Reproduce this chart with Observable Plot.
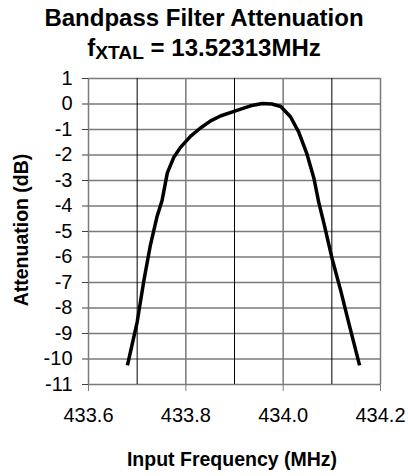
<!DOCTYPE html>
<html>
<head>
<meta charset="utf-8">
<script src="https://cdn.jsdelivr.net/npm/d3@7"></script>
<script src="https://cdn.jsdelivr.net/npm/@observablehq/plot@0.6"></script>
<style>
  html, body { margin: 0; padding: 0; background: #fff; }
  #wrap { position: relative; width: 408px; height: 476px; font-family: "Liberation Sans", Arial, sans-serif; color: #000; }
  .t { position: absolute; left: 0; width: 408px; text-align: center; font-weight: bold; white-space: nowrap; }
  #title { top: 6px; font-size: 24px; line-height: 24px; }
  #subtitle { top: 36px; font-size: 24px; line-height: 24px; }
  #subtitle sub { font-size: 0.8em; vertical-align: -0.15em; line-height: 0; }
  #xlabel { position: absolute; left: 232px; top: 450px; transform: translateX(-50%); font-size: 19.5px; line-height: 19.5px; font-weight: bold; white-space: nowrap; }
  #ylabel { position: absolute; left: 22px; top: 230px; transform: translate(-50%, -50%) rotate(-90deg); font-size: 19.5px; line-height: 19.5px; font-weight: bold; white-space: nowrap; }
  #plot { position: absolute; left: 0; top: 0; }
</style>
</head>
<body>
<div id="wrap">
  <div id="plot"></div>
  <div id="title" class="t">Bandpass Filter Attenuation</div>
  <div id="subtitle" class="t">f<sub>XTAL</sub> = 13.52313MHz</div>
  <div id="ylabel">Attenuation (dB)</div>
  <div id="xlabel">Input Frequency (MHz)</div>
</div>
<script>
// Data
const freq = [433.680, 433.700, 433.714, 433.727, 433.741, 433.751, 433.762, 433.775, 433.789, 433.810,
              433.830, 433.851, 433.871, 433.899, 433.933, 433.957, 433.977, 433.995, 434.015, 434.032,
              434.049, 434.063, 434.073, 434.084, 434.101, 434.118, 434.135, 434.157];
const atten = [-10.25, -8.55, -6.9, -5.55, -4.4, -3.8, -2.7, -2.1, -1.7, -1.26,
               -0.94, -0.66, -0.47, -0.29, -0.07, 0.02, 0.0, -0.1, -0.5, -1.1,
               -1.97, -2.9, -3.85, -4.7, -6.1, -7.3, -8.6, -10.25];
const yTicks = [1, 0, -1, -2, -3, -4, -5, -6, -7, -8, -9, -10, -11];
const xMajor = [433.6, 433.8, 434.0, 434.2];
const xMinor = [433.7, 433.9, 434.1];

const data = freq.map((f, i) => ({f, a: atten[i]}));

const chart = Plot.plot({
  width: 408,
  height: 476,
  marginTop: 78,
  marginBottom: 92,
  marginLeft: 88,
  marginRight: 28,
  style: {fontFamily: '"Liberation Sans", Arial, sans-serif', fontSize: "20px", color: "#000", background: "transparent"},
  x: {domain: [433.6, 434.2]},
  y: {domain: [-11, 1]},
  marks: [
    Plot.ruleY(yTicks, {stroke: "#7a7a7a", strokeWidth: 1.5}),
    Plot.ruleX(xMinor, {stroke: "#000", strokeWidth: 1}),
    Plot.ruleX(xMajor, {stroke: "#7a7a7a", strokeWidth: 1.5}),
    Plot.axisY({ticks: yTicks, tickSize: 6, tickPadding: 10, tickFormat: d => String(d), label: null, stroke: "#404040"}),
    Plot.axisX({ticks: xMajor, tickSize: 7, tickPadding: 16, tickFormat: d => d.toFixed(1), label: null, stroke: "#7a7a7a"}),
    Plot.line(data, {x: "f", y: "a", stroke: "#000", strokeWidth: 3.5, strokeLinejoin: "round", strokeLinecap: "butt"})
  ]
});
document.getElementById("plot").appendChild(chart);
</script>
</body>
</html>
